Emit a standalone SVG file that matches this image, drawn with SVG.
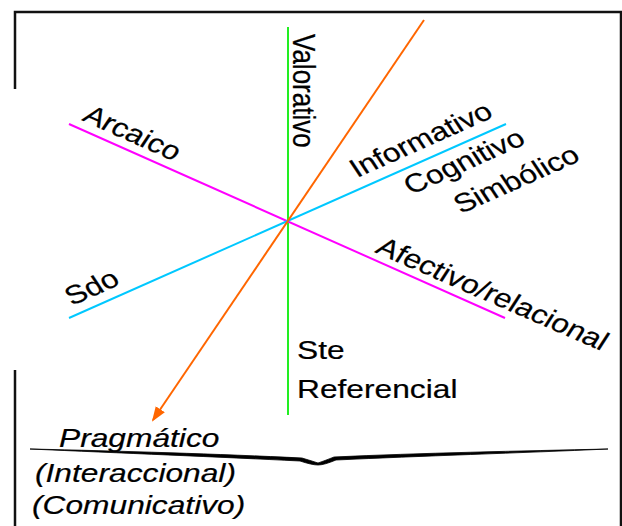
<svg xmlns="http://www.w3.org/2000/svg" width="622" height="526" viewBox="0 0 622 526">
<defs>
<style>
text{font-family:"Liberation Sans",Arial,sans-serif;font-size:26px;fill:#000;stroke:#000;stroke-width:0.2}
.it{font-style:italic}
.ln{fill:none;stroke-width:2}
</style>
<marker id="ah" markerWidth="15" markerHeight="11" refX="13" refY="5.5" orient="auto" markerUnits="userSpaceOnUse">
<path d="M0,0 L15,5.5 L0,11 Z" fill="#ff6600"/>
</marker>
</defs>
<rect width="622" height="526" fill="#fff"/>
<g id="frame" fill="none" stroke="#111" stroke-width="2.5">
<path d="M15,89 V12 H621 V526"/>
<path d="M15,370 V526"/>
</g>
<g id="connectors">
<line class="ln" x1="288" y1="27" x2="288" y2="415" stroke="#22ee22"/>
<line class="ln" x1="69" y1="124" x2="505" y2="318" stroke="#ff00ff"/>
<line class="ln" x1="69" y1="318" x2="506" y2="124" stroke="#00c8ff"/>
<line class="ln" x1="424" y1="20" x2="153" y2="420" stroke="#ff6600" marker-end="url(#ah)"/>
</g>
<g id="n-valorativo"><text transform="translate(293,34) scale(1.22,1) rotate(90)">Valorativo</text></g>
<g id="n-arcaico"><text transform="translate(81,120) scale(1.22,1) rotate(28.5)">Arcaico</text></g>
<g id="n-informativo"><text transform="translate(357,178) scale(1.22,1) rotate(-28.5)">Informativo</text></g>
<g id="n-cognitivo"><text transform="translate(411,195) scale(1.22,1) rotate(-28.5)">Cognitivo</text></g>
<g id="n-simbolico"><text transform="translate(461,214) scale(1.22,1) rotate(-28.5)">Simbólico</text></g>
<g id="n-sdo"><text transform="translate(72,306) scale(1.22,1) rotate(-28.5)">Sdo</text></g>
<g id="n-afectivo"><text transform="translate(374,252) scale(1.22,1) rotate(28)">Afectivo/relacional</text></g>
<g id="n-ste">
<text transform="translate(297,359) scale(1.22,1)">Ste</text>
<text transform="translate(297,398) scale(1.22,1)">Referencial</text>
</g>
<g id="n-pragmatico">
<text class="it" transform="translate(59,447) scale(1.22,1)">Pragmático</text>
<path d="M30,449 C120,451 220,454 302,458 Q312,461 318,463 Q324,461 334,457 C420,453 520,451 608,449 C520,453 420,456 336,460 Q324,465 318,465 Q312,465 300,461 C220,457 120,453 30,449 Z" fill="#000" stroke="#000" stroke-width="0.8"/>
<text class="it" transform="translate(35,482) scale(1.22,1)">(Interaccional)</text>
<text class="it" transform="translate(32,514) scale(1.22,1)">(Comunicativo)</text>
</g>
</svg>
